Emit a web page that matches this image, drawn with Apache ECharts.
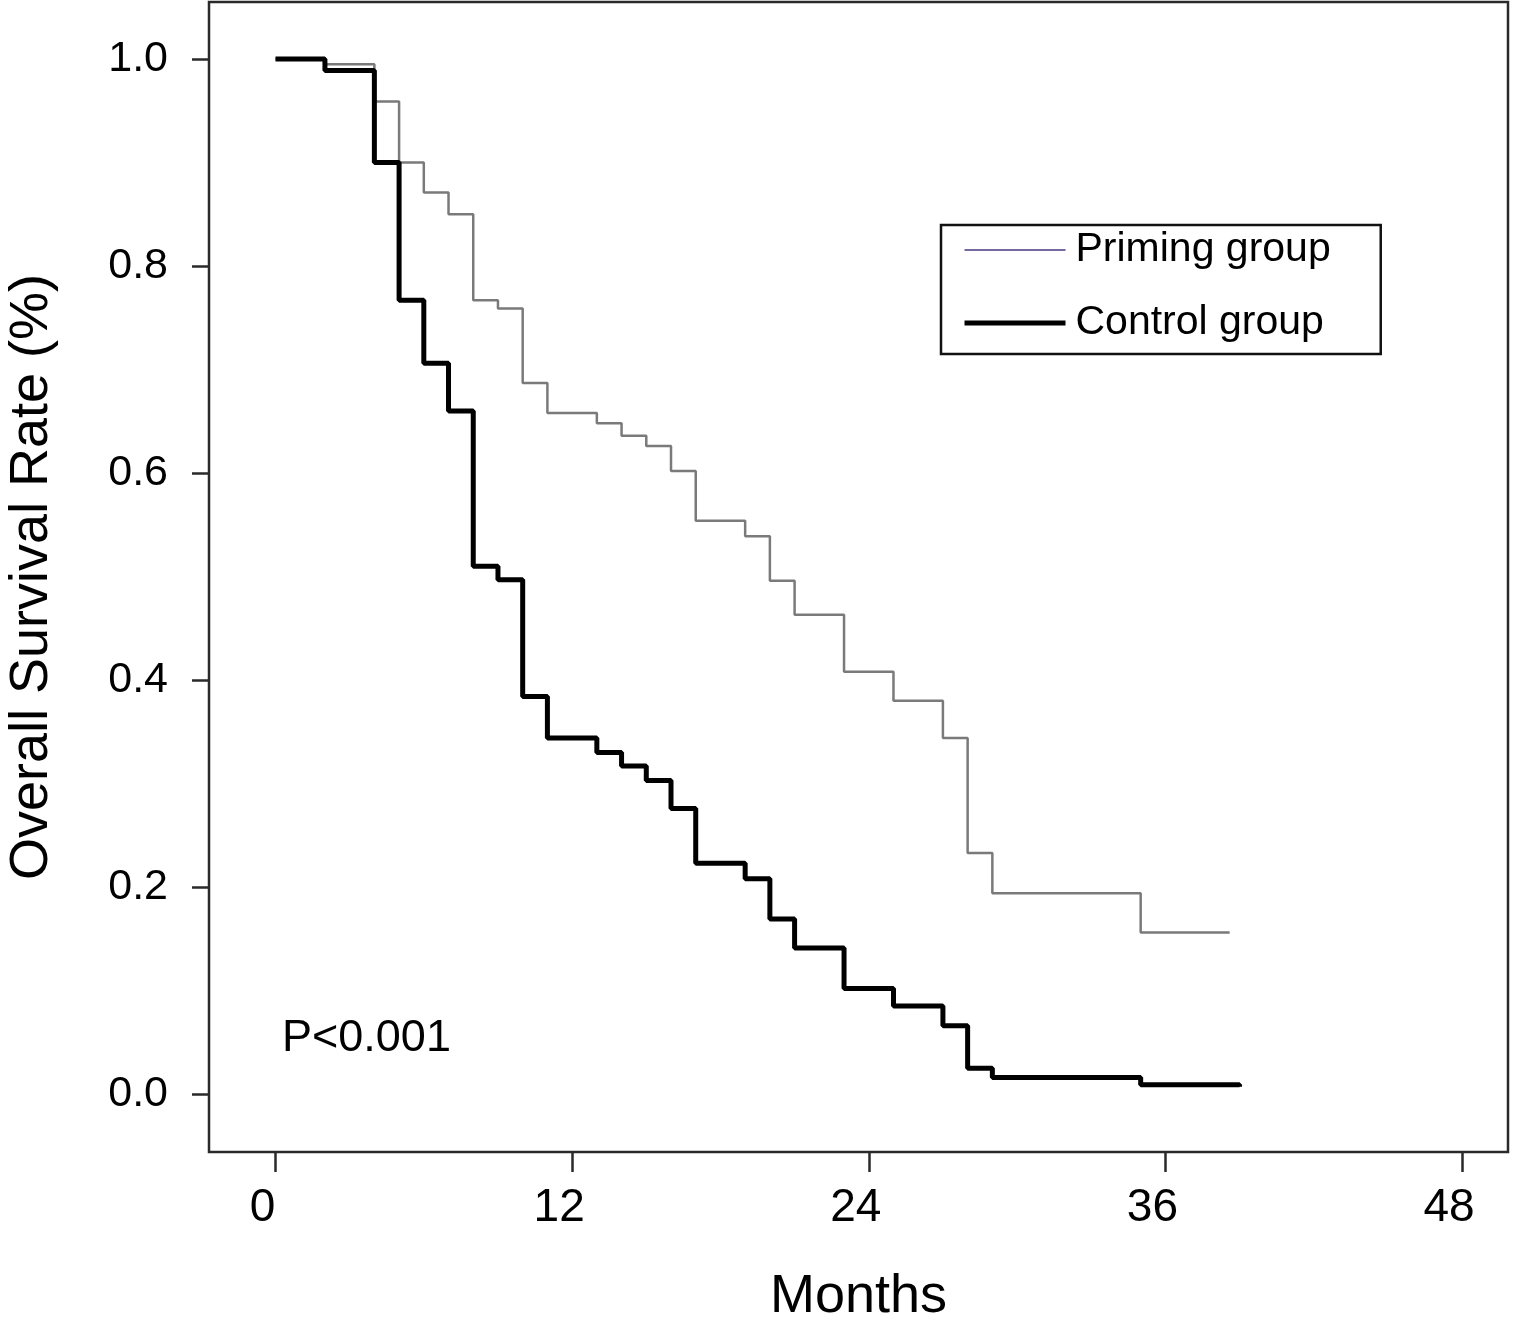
<!DOCTYPE html>
<html>
<head>
<meta charset="utf-8">
<script src="https://cdn.jsdelivr.net/npm/echarts@6/dist/echarts.min.js"></script>
<style>
  html, body { margin: 0; padding: 0; background: #fff; }
  #chart { width: 1530px; height: 1331px; }
</style>
</head>
<body>
<div id="chart"></div>
<script>
// ---- Data ----
const primingMonths   = [0, 2, 4, 5, 6, 7, 8, 9, 10, 11, 13, 14, 15, 16, 17, 19, 20, 21, 23, 25, 27, 28, 29, 35, 38.6];
const primingSurvival = [1.0, 0.995, 0.959, 0.900, 0.871, 0.850, 0.767, 0.759, 0.687, 0.658, 0.648, 0.636, 0.626, 0.602, 0.554, 0.539, 0.496, 0.463, 0.408, 0.380, 0.344, 0.233, 0.194, 0.156, 0.156];

const controlMonths   = [0, 2, 4, 5, 6, 7, 8, 9, 10, 11, 13, 14, 15, 16, 17, 19, 20, 21, 23, 25, 27, 28, 29, 35, 39];
const controlSurvival = [1.0, 0.989, 0.900, 0.767, 0.706, 0.660, 0.510, 0.497, 0.384, 0.344, 0.330, 0.317, 0.303, 0.276, 0.223, 0.208, 0.169, 0.141, 0.102, 0.085, 0.066, 0.025, 0.016, 0.009, 0.007];

const xTicks = [0, 12, 24, 36, 48];
const yTicks = [0, 0.2, 0.4, 0.6, 0.8, 1.0];

const seriesNames = ['Priming group', 'Control group'];
const pValueText = 'P<0.001';

// ---- Build ----
const pair = (xs, ys) => xs.map((x, i) => [x, ys[i]]);
const FONT = '"Liberation Sans", Arial, Helvetica, sans-serif';

const chart = echarts.init(document.getElementById('chart'), null, { renderer: 'canvas' });

chart.setOption({
  backgroundColor: '#ffffff',
  animation: false,
  grid: {
    left: 209, right: 22, top: 2, bottom: 179,
    containLabel: false,
    outerBoundsMode: 'none',
    show: true, borderColor: '#2a2a2a', borderWidth: 2.5, backgroundColor: 'transparent'
  },
  xAxis: {
    type: 'value',
    min: -2.69, max: 49.86,
    name: 'Months',
    nameLocation: 'middle',
    nameGap: 118,
    nameTextStyle: { fontFamily: FONT, fontSize: 54, color: '#000' },
    axisLine: { show: false, onZero: false },
    splitLine: { show: false },
    axisTick: {
      show: true, inside: false, length: 20,
      customValues: xTicks,
      lineStyle: { color: '#2a2a2a', width: 2.5 }
    },
    axisLabel: {
      customValues: xTicks,
      margin: 33,
      fontFamily: FONT, fontSize: 46, color: '#000',
      padding: [0, 26, 0, 0]
    }
  },
  yAxis: {
    type: 'value',
    min: -0.056, max: 1.0551,
    name: 'Overall Survival Rate (%)',
    nameLocation: 'middle',
    nameRotate: 90,
    nameGap: 150,
    nameTextStyle: { fontFamily: FONT, fontSize: 54, color: '#000' },
    axisLine: { show: false, onZero: false },
    splitLine: { show: false },
    axisTick: {
      show: true, inside: false, length: 17,
      customValues: yTicks,
      lineStyle: { color: '#2a2a2a', width: 2.5 }
    },
    axisLabel: {
      customValues: yTicks,
      margin: 41,
      fontFamily: FONT, fontSize: 43, color: '#000',
      formatter: v => Number(v).toFixed(1)
    }
  },
  legend: {
    orient: 'vertical',
    left: 941, top: 225,
    padding: [2, 50, 8, 21],
    itemGap: 27,
    itemWidth: 101,
    itemHeight: 14,
    borderColor: '#111',
    borderWidth: 2.5,
    backgroundColor: '#fff',
    textStyle: { fontFamily: FONT, fontSize: 41, color: '#000', lineHeight: 46, padding: [0, 0, 0, 5] },
    data: [
      { name: seriesNames[0], lineStyle: { color: '#76699e', width: 2 }, itemStyle: { opacity: 0, borderWidth: 0 } },
      { name: seriesNames[1], lineStyle: { color: '#000', width: 5 }, itemStyle: { opacity: 0, borderWidth: 0 } }
    ]
  },
  graphic: [
    {
      type: 'text',
      left: 282, top: 1016,
      style: { text: pValueText, fontFamily: FONT, fontSize: 45, fill: '#000' }
    }
  ],
  series: [
    {
      name: seriesNames[0],
      type: 'line',
      step: 'end',
      symbol: 'none',
      showSymbol: false,
      lineStyle: { color: '#7a7a7a', width: 2.5 },
      itemStyle: { color: '#7a7a7a' },
      data: pair(primingMonths, primingSurvival),
      z: 3
    },
    {
      name: seriesNames[1],
      type: 'line',
      step: 'end',
      symbol: 'none',
      showSymbol: false,
      lineStyle: { color: '#000', width: 5 },
      itemStyle: { color: '#000' },
      data: pair(controlMonths, controlSurvival),
      z: 4
    }
  ]
});
</script>
</body>
</html>
